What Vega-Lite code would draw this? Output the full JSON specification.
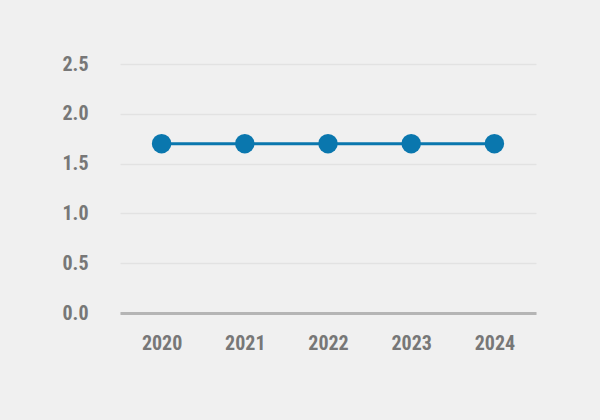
{
  "$schema": "https://vega.github.io/schema/vega-lite/v6.json",
  "autosize": "none",
  "width": 416,
  "height": 249,
  "padding": {"left": 120, "top": 64, "right": 64, "bottom": 107},
  "background": "#f0f0f0",
  "config": {"view": {"stroke": null}},
  "data": {"values": [
    {"year": "2020", "value": 1.7},
    {"year": "2021", "value": 1.7},
    {"year": "2022", "value": 1.7},
    {"year": "2023", "value": 1.7},
    {"year": "2024", "value": 1.7}
  ]},
  "encoding": {
    "x": {
      "field": "year", "type": "ordinal", "title": null,
      "scale": {"type": "point", "padding": 0.5},
      "axis": {
        "labelAngle": 0, "ticks": false, "grid": false,
        "domainColor": "#b5b5b5", "domainWidth": 3,
        "labelFont": "Roboto Condensed, DejaVu Sans Condensed, Liberation Sans", "labelFontWeight": "bold",
        "labelFontSize": 20, "labelColor": "#777777", "labelPadding": 20
      }
    },
    "y": {
      "field": "value", "type": "quantitative", "title": null,
      "scale": {"domain": [0, 2.5]},
      "axis": {
        "values": [0, 0.5, 1, 1.5, 2, 2.5], "format": ".1f",
        "ticks": false, "domain": false,
        "gridColor": "#e2e2e2", "gridWidth": 1.5,
        "labelFont": "Roboto Condensed, DejaVu Sans Condensed, Liberation Sans", "labelFontWeight": "bold",
        "labelFontSize": 20, "labelColor": "#777777", "labelPadding": 32
      }
    }
  },
  "layer": [
    {"mark": {"type": "line", "color": "#0a77ae", "strokeWidth": 3}},
    {"mark": {"type": "point", "filled": true, "opacity": 1, "color": "#0a77ae", "size": 380}}
  ]
}
